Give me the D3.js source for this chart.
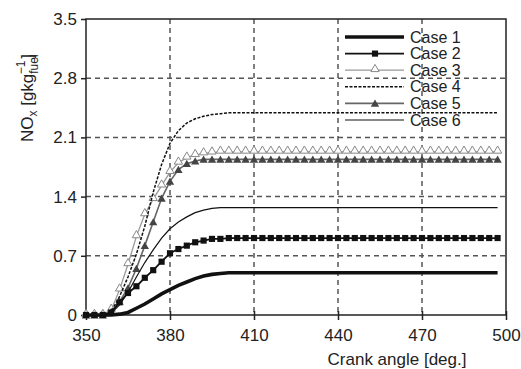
<!DOCTYPE html>
<html>
<head>
<meta charset="utf-8">
<script src="https://cdn.jsdelivr.net/npm/d3@7"></script>
<style>
  body { margin: 0; background: #fff; }
  svg text { font-family: "Liberation Sans", Arial, sans-serif; fill: #222; }
</style>
</head>
<body>
<svg id="chart" width="521" height="369"></svg>
<script>
// crank angles shared by all cases (deg.)
const angles = [350, 353, 356, 359, 362, 365, 368, 371, 374, 377, 380, 383, 386, 389, 392, 395, 398, 401,
    404, 407, 410, 413, 416, 419, 422, 425, 428, 431, 434, 437, 440, 443, 446, 449, 452, 455, 458, 461,
    464, 467, 470, 473, 476, 479, 482, 485, 488, 491, 494, 497];

// NOx [g/kg fuel]
const case1 = [0, 0, 0, 0, 0.01, 0.03, 0.08, 0.13, 0.19, 0.25, 0.30, 0.35, 0.39, 0.43, 0.46, 0.48, 0.49, 0.50,
    0.50, 0.50, 0.50, 0.50, 0.50, 0.50, 0.50, 0.50, 0.50, 0.50, 0.50, 0.50, 0.50, 0.50, 0.50, 0.50, 0.50, 0.50,
    0.50, 0.50, 0.50, 0.50, 0.50, 0.50, 0.50, 0.50, 0.50, 0.50, 0.50, 0.50, 0.50, 0.50];
const case2 = [0, 0, 0, 0.03, 0.15, 0.26, 0.34, 0.44, 0.53, 0.63, 0.73, 0.78, 0.82, 0.86, 0.88, 0.90, 0.90, 0.91,
    0.91, 0.91, 0.91, 0.91, 0.91, 0.91, 0.91, 0.91, 0.91, 0.91, 0.91, 0.91, 0.91, 0.91, 0.91, 0.91, 0.91, 0.91,
    0.91, 0.91, 0.91, 0.91, 0.91, 0.91, 0.91, 0.91, 0.91, 0.91, 0.91, 0.91, 0.91, 0.91];
const case3 = [0, 0, 0, 0.06, 0.30, 0.60, 0.93, 1.19, 1.37, 1.53, 1.69, 1.80, 1.86, 1.89, 1.91, 1.92, 1.93, 1.93,
    1.93, 1.93, 1.93, 1.93, 1.93, 1.93, 1.93, 1.93, 1.93, 1.93, 1.93, 1.93, 1.93, 1.93, 1.93, 1.93, 1.93, 1.93,
    1.93, 1.93, 1.93, 1.93, 1.93, 1.93, 1.93, 1.93, 1.93, 1.93, 1.93, 1.93, 1.93, 1.93];
const case4 = [0, 0, 0, 0.04, 0.22, 0.45, 0.72, 1.05, 1.45, 1.78, 2.03, 2.18, 2.27, 2.32, 2.35, 2.37, 2.38, 2.39,
    2.39, 2.39, 2.39, 2.39, 2.39, 2.39, 2.39, 2.39, 2.39, 2.39, 2.39, 2.39, 2.39, 2.39, 2.39, 2.39, 2.39, 2.39,
    2.39, 2.39, 2.39, 2.39, 2.39, 2.39, 2.39, 2.39, 2.39, 2.39, 2.39, 2.39, 2.39, 2.39];
const case5 = [0, 0, 0, 0.04, 0.16, 0.32, 0.55, 0.82, 1.10, 1.38, 1.58, 1.72, 1.79, 1.82, 1.84, 1.84, 1.84, 1.84,
    1.84, 1.84, 1.84, 1.84, 1.84, 1.84, 1.84, 1.84, 1.84, 1.84, 1.84, 1.84, 1.84, 1.84, 1.84, 1.84, 1.84, 1.84,
    1.84, 1.84, 1.84, 1.84, 1.84, 1.84, 1.84, 1.84, 1.84, 1.84, 1.84, 1.84, 1.84, 1.84];
const case6 = [0, 0, 0, 0.02, 0.12, 0.27, 0.45, 0.62, 0.77, 0.91, 1.02, 1.10, 1.16, 1.21, 1.24, 1.26, 1.27, 1.27,
    1.27, 1.27, 1.27, 1.27, 1.27, 1.27, 1.27, 1.27, 1.27, 1.27, 1.27, 1.27, 1.27, 1.27, 1.27, 1.27, 1.27, 1.27,
    1.27, 1.27, 1.27, 1.27, 1.27, 1.27, 1.27, 1.27, 1.27, 1.27, 1.27, 1.27, 1.27, 1.27];

const caseNames = ["Case 1", "Case 2", "Case 3", "Case 4", "Case 5", "Case 6"];
const xTicks = [350, 380, 410, 440, 470, 500];
const yTicks = [0, 0.7, 1.4, 2.1, 2.8, 3.5];

// drawing styles, by case
const styles = [
    {stroke: "#111", width: 3.6, dash: null, marker: null},
    {stroke: "#111", width: 1.8, dash: null, marker: "square"},
    {stroke: "#999", width: 1.3, dash: null, marker: "openTri"},
    {stroke: "#111", width: 1.5, dash: "3,1.5", marker: null},
    {stroke: "#666", width: 1.6, dash: null, marker: "fillTri"},
    {stroke: "#111", width: 1.2, dash: null, marker: null}
];

const svg = d3.select("#chart");
const m = {left: 86, top: 19, right: 506, bottom: 315};

const x = d3.scaleLinear().domain([350, 500]).range([m.left, m.right]);
const y = d3.scaleLinear().domain([0, 3.5]).range([m.bottom, m.top]);

// grid
const grid = svg.append("g")
    .attr("stroke", "#555")
    .attr("stroke-width", 1.5)
    .attr("stroke-dasharray", "5,4");
grid.selectAll("line.vx").data(xTicks.slice(1, -1)).enter().append("line")
    .attr("x1", d => x(d)).attr("x2", d => x(d))
    .attr("y1", m.top).attr("y2", m.bottom);
grid.selectAll("line.hy").data(yTicks.slice(1, -1)).enter().append("line")
    .attr("y1", d => y(d)).attr("y2", d => y(d))
    .attr("x1", m.left).attr("x2", m.right);

// frame
svg.append("rect")
    .attr("x", m.left).attr("y", m.top)
    .attr("width", m.right - m.left).attr("height", m.bottom - m.top)
    .attr("fill", "none").attr("stroke", "#222").attr("stroke-width", 1.5);

// axes
const xAxis = svg.append("g")
    .attr("transform", "translate(0," + m.bottom + ")")
    .call(d3.axisBottom(x).tickValues(xTicks).tickSize(5).tickPadding(9).tickFormat(d3.format("d")));
xAxis.select(".domain").remove();
xAxis.selectAll(".tick line").attr("y1", -4).attr("stroke", "#222").attr("stroke-width", 1.5);
xAxis.selectAll(".tick text").attr("font-size", 17).attr("fill", "#222")
    .style("font-family", "'Liberation Sans', Arial, sans-serif");

const yAxis = svg.append("g")
    .attr("transform", "translate(" + m.left + ",0)")
    .call(d3.axisLeft(y).tickValues(yTicks).tickSize(5).tickPadding(4)
        .tickFormat(d => d === 0 ? "0" : d3.format(".1f")(d)));
yAxis.select(".domain").remove();
yAxis.selectAll(".tick line").attr("stroke", "#222").attr("stroke-width", 1.5);
yAxis.selectAll(".tick text").attr("font-size", 17).attr("fill", "#222")
    .style("font-family", "'Liberation Sans', Arial, sans-serif");

// titles
svg.append("text")
    .attr("x", 397).attr("y", 365)
    .attr("text-anchor", "middle")
    .attr("font-size", 17)
    .text("Crank angle [deg.]");

const yt = svg.append("text")
    .attr("transform", "translate(33,98) rotate(-90)")
    .attr("text-anchor", "middle")
    .attr("font-size", 17);
yt.append("tspan").text("NO");
yt.append("tspan").attr("font-size", 12).attr("dy", 4).text("x");
yt.append("tspan").attr("dy", -4).text(" [gkg");
yt.append("tspan").attr("font-size", 12).attr("dy", 5).text("fuel");
yt.append("tspan").attr("font-size", 12).attr("dx", -20).attr("dy", -13).text("\u22121");
yt.append("tspan").attr("dx", 2).attr("dy", 8).text("]");

// series
const cases = [case1, case2, case3, case4, case5, case6];
const line = d3.line().x(d => x(d[0])).y(d => y(d[1]));

function drawMarker(g, kind, px, py) {
    if (kind === "square") {
        g.append("path").attr("transform", "translate(" + px + "," + py + ")")
            .attr("d", d3.symbol(d3.symbolSquare, 38)()).attr("fill", "#111");
    } else if (kind === "openTri") {
        g.append("path").attr("transform", "translate(" + px + "," + (py - 1) + ")")
            .attr("d", d3.symbol(d3.symbolTriangle, 30)())
            .attr("fill", "#fff").attr("stroke", "#888").attr("stroke-width", 1);
    } else if (kind === "fillTri") {
        g.append("path").attr("transform", "translate(" + px + "," + (py + 1) + ")")
            .attr("d", d3.symbol(d3.symbolTriangle, 30)()).attr("fill", "#444");
    }
}

// draw order: lighter gray first, heavy black last
const order = [2, 4, 3, 5, 1, 0];
order.forEach(i => {
    const pts = angles.map((a, k) => [a, cases[i][k]]);
    const st = styles[i];
    const g = svg.append("g");
    g.append("path")
        .attr("d", line(pts))
        .attr("fill", "none")
        .attr("stroke", st.stroke)
        .attr("stroke-width", st.width)
        .attr("stroke-dasharray", st.dash);
    if (st.marker)
        pts.forEach(p => drawMarker(g, st.marker, x(p[0]), y(p[1])));
});

// legend
const lg = svg.append("g");
caseNames.forEach((name, i) => {
    const ly = 37 + i * 16.6;
    const st = styles[i];
    lg.append("line")
        .attr("x1", 345).attr("x2", 404).attr("y1", ly).attr("y2", ly)
        .attr("stroke", st.stroke).attr("stroke-width", st.width)
        .attr("stroke-dasharray", st.dash);
    if (st.marker)
        drawMarker(lg, st.marker, 375, ly);
    lg.append("text")
        .attr("x", 410).attr("y", ly + 5.5)
        .attr("font-size", 16)
        .text(name);
});
</script>
</body>
</html>
